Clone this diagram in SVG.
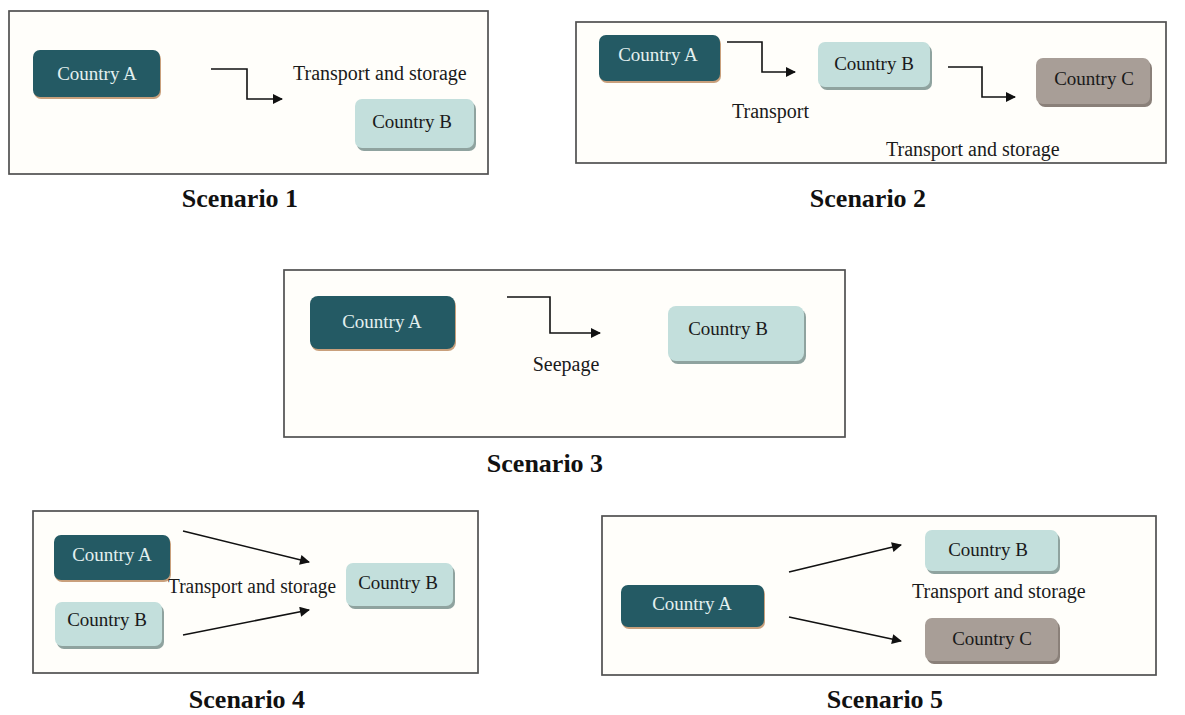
<svg xmlns="http://www.w3.org/2000/svg" width="1185" height="715" viewBox="0 0 1185 715">
<style>
.frame{fill:#fffefa;stroke:#505050;stroke-width:1.7}
.a{fill:#245a64}
.ash{fill:#c9a07c}
.b{fill:#c3dfdc}
.bsh{fill:#8fa39f}
.c{fill:#a89e97}
.csh{fill:#8a8079}
.tw{font-family:"Liberation Serif",serif;font-size:19px;fill:#e3f0ef;text-anchor:middle}
.tk{font-family:"Liberation Serif",serif;font-size:19px;fill:#1a1a1a;text-anchor:middle}
.lbl{font-family:"Liberation Serif",serif;font-size:20px;fill:#1a1a1a}
.title{font-family:"Liberation Serif",serif;font-size:26px;font-weight:bold;fill:#111;text-anchor:middle}
.con{fill:none;stroke:#111;stroke-width:1.6;marker-end:url(#ah)}
</style>
<defs>
<marker id="ah" viewBox="0 0 10 10" refX="9" refY="5" markerWidth="11" markerHeight="10" markerUnits="userSpaceOnUse" orient="auto">
<path d="M0,0 L10,5 L0,10 z" fill="#111"/>
</marker>
</defs>
<rect width="1185" height="715" fill="#fff"/>

<g id="frames">
<rect class="frame" x="9" y="11" width="479" height="163"/>
<rect class="frame" x="576" y="22" width="590" height="141"/>
<rect class="frame" x="284" y="270" width="561" height="167"/>
<rect class="frame" x="33" y="511" width="445" height="162"/>
<rect class="frame" x="602" y="516" width="554" height="159"/>
</g>

<g id="connectors">
<path class="con" d="M211,69 H247 V99 H282"/>
<path class="con" d="M727,42 H762 V72 H795"/>
<path class="con" d="M948,67 H982 V97 H1015"/>
<path class="con" d="M507,297 H550 V333 H600"/>
<path class="con" d="M183,531 L309,562"/>
<path class="con" d="M183,635 L309,610"/>
<path class="con" d="M789,572 L901,545"/>
<path class="con" d="M789,617 L901,641"/>
</g>

<!-- Scenario 1 -->
<g id="s1-countryA">
<rect class="ash" x="34" y="52" width="127" height="47" rx="7"/>
<rect class="a" x="33" y="50" width="127" height="47" rx="7"/>
<text class="tw" x="97" y="80">Country A</text>
</g>
<g id="s1-countryB">
<rect class="bsh" x="357" y="102" width="119" height="49" rx="7"/>
<rect class="b" x="355" y="99" width="119" height="49" rx="7"/>
<text class="tk" x="412" y="128">Country B</text>
</g>
<text class="lbl" x="293" y="80">Transport and storage</text>
<text class="title" x="240" y="207">Scenario 1</text>

<!-- Scenario 2 -->
<g id="s2-countryA">
<rect class="ash" x="600" y="37" width="121" height="46" rx="7"/>
<rect class="a" x="599" y="35" width="121" height="46" rx="7"/>
<text class="tw" x="658" y="61">Country A</text>
</g>
<g id="s2-countryB">
<rect class="bsh" x="820" y="45" width="112" height="45" rx="7"/>
<rect class="b" x="818" y="42" width="112" height="45" rx="7"/>
<text class="tk" x="874" y="70">Country B</text>
</g>
<g id="s2-countryC">
<rect class="csh" x="1038" y="61" width="114" height="46" rx="7"/>
<rect class="c" x="1036" y="58" width="114" height="46" rx="7"/>
<text class="tk" x="1094" y="85">Country C</text>
</g>
<text class="lbl" x="732" y="118">Transport</text>
<text class="lbl" x="886" y="156">Transport and storage</text>
<text class="title" x="868" y="207">Scenario 2</text>

<!-- Scenario 3 -->
<g id="s3-countryA">
<rect class="ash" x="311" y="298" width="145" height="53" rx="8"/>
<rect class="a" x="310" y="296" width="145" height="53" rx="8"/>
<text class="tw" x="382" y="328">Country A</text>
</g>
<g id="s3-countryB">
<rect class="bsh" x="670" y="309" width="136" height="55" rx="8"/>
<rect class="b" x="668" y="306" width="136" height="55" rx="8"/>
<text class="tk" x="728" y="335">Country B</text>
</g>
<text class="lbl" x="566" y="371" text-anchor="middle">Seepage</text>
<text class="title" x="545" y="472">Scenario 3</text>

<!-- Scenario 4 -->
<g id="s4-countryA">
<rect class="ash" x="55" y="537" width="116" height="45" rx="7"/>
<rect class="a" x="54" y="535" width="116" height="45" rx="7"/>
<text class="tw" x="112" y="561">Country A</text>
</g>
<g id="s4-countryB-left">
<rect class="bsh" x="57" y="605" width="107" height="44" rx="7"/>
<rect class="b" x="55" y="602" width="107" height="44" rx="7"/>
<text class="tk" x="107" y="626">Country B</text>
</g>
<g id="s4-countryB-right">
<rect class="bsh" x="348" y="566" width="107" height="43" rx="7"/>
<rect class="b" x="346" y="563" width="107" height="43" rx="7"/>
<text class="tk" x="398" y="589">Country B</text>
</g>
<text class="lbl" x="168" y="593" textLength="168" lengthAdjust="spacingAndGlyphs">Transport and storage</text>
<text class="title" x="247" y="708">Scenario 4</text>

<!-- Scenario 5 -->
<g id="s5-countryA">
<rect class="ash" x="622" y="587" width="143" height="42" rx="7"/>
<rect class="a" x="621" y="585" width="143" height="42" rx="7"/>
<text class="tw" x="692" y="610">Country A</text>
</g>
<g id="s5-countryB">
<rect class="bsh" x="927" y="533" width="133" height="41" rx="7"/>
<rect class="b" x="925" y="530" width="133" height="41" rx="7"/>
<text class="tk" x="988" y="556">Country B</text>
</g>
<g id="s5-countryC">
<rect class="csh" x="927" y="621" width="133" height="43" rx="7"/>
<rect class="c" x="925" y="618" width="133" height="43" rx="7"/>
<text class="tk" x="992" y="645">Country C</text>
</g>
<text class="lbl" x="912" y="598">Transport and storage</text>
<text class="title" x="885" y="708">Scenario 5</text>
</svg>
